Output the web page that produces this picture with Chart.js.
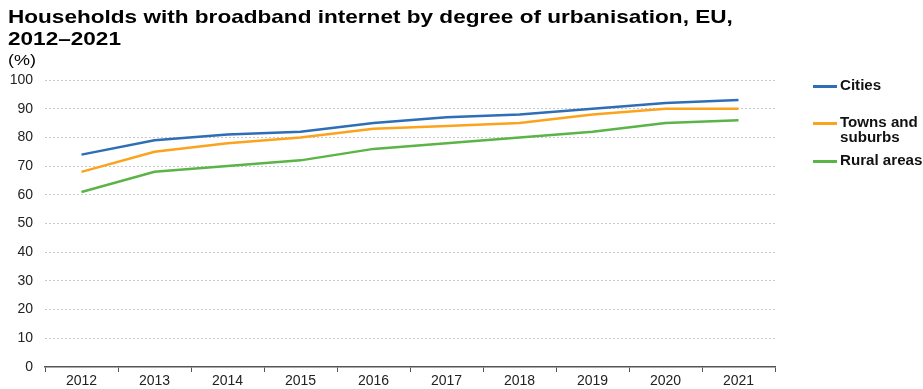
<!DOCTYPE html>
<html>
<head>
<meta charset="utf-8">
<script src="https://cdn.jsdelivr.net/npm/chart.js@4/dist/chart.umd.min.js"></script>
<style>
  html, body { margin: 0; padding: 0; background: #fff; }
  #wrap { position: relative; width: 923px; height: 389px; font-family: "Liberation Sans", Arial, sans-serif; color: #000; }
  #title { position: absolute; left: 8px; top: 6px; font-size: 18.5px; font-weight: bold; line-height: 22px; transform: scaleX(1.22); transform-origin: 0 0; white-space: nowrap; }
  #unit { position: absolute; left: 8px; top: 51px; font-size: 15px; transform: scaleX(1.2); transform-origin: 0 0; }
  #chart { position: absolute; left: 0; top: 0; }
  .lg { position: absolute; left: 813px; font-size: 14px; font-weight: bold; line-height: 15px; color: #111; }
  .lg .sw { position: absolute; left: 0; width: 24px; height: 3px; top: 6px; }
  .lg .tx { position: absolute; left: 27px; white-space: nowrap; transform: scaleX(1.08); transform-origin: 0 0; }
</style>
</head>
<body>
<div id="wrap">
  <canvas id="chart" width="923" height="389"></canvas>
  <div id="title">Households with broadband internet by degree of urbanisation, EU,<br>2012–2021</div>
  <div id="unit">(%)</div>
  <div id="legend"></div>
</div>
<script>
// Survey years
const years = ['2012', '2013', '2014', '2015', '2016', '2017', '2018', '2019', '2020', '2021'];

// Share of households with broadband access (%)
const cities = [74, 79, 81, 82, 85, 87, 88, 90, 92, 93];
const townsSuburbs = [68, 75, 78, 80, 83, 84, 85, 88, 90, 90];
const ruralAreas = [61, 68, 70, 72, 76, 78, 80, 82, 85, 86];

const seriesNames = ['Cities', ['Towns and', 'suburbs'], 'Rural areas'];
const seriesColors = ['#2E6EB6', '#FBA31C', '#5BB446'];
const legendTops = [78, 115, 153];

const datasets = [cities, townsSuburbs, ruralAreas].map((values, i) => ({
  label: Array.isArray(seriesNames[i]) ? seriesNames[i].join(' ') : seriesNames[i],
  data: values,
  borderColor: seriesColors[i],
  backgroundColor: seriesColors[i],
  borderWidth: 2.5,
  pointRadius: 0,
  tension: 0,
  fill: false
}));

// Legend on the right
const legend = document.getElementById('legend');
seriesNames.forEach((name, i) => {
  const item = document.createElement('div');
  item.className = 'lg';
  item.style.top = legendTops[i] + 'px';
  const lines = Array.isArray(name) ? name : [name];
  item.innerHTML = '<span class="sw" style="background:' + seriesColors[i] + ';top:' + 7 + 'px"></span>' +
    '<span class="tx">' + lines.join('<br>') + '</span>';
  legend.appendChild(item);
});

const tickFont = { family: '"Liberation Sans", Arial, sans-serif', size: 14 };

new Chart(document.getElementById('chart'), {
  type: 'line',
  data: { labels: years, datasets },
  options: {
    responsive: false,
    animation: false,
    events: [],
    layout: { padding: { left: 0, right: 148, top: 80, bottom: 0 } },
    plugins: { legend: { display: false }, title: { display: false }, tooltip: { enabled: false } },
    scales: {
      x: {
        type: 'category',
        offset: true,
        afterFit: (s) => { s.height = 22; },
        grid: {
          offset: true,
          drawOnChartArea: false,
          drawTicks: true,
          tickLength: 5,
          tickColor: '#555',
          lineWidth: 1
        },
        border: { display: true, color: '#555', width: 1.5 },
        ticks: {
          color: '#222',
          padding: 1,
          maxRotation: 0,
          font: tickFont
        }
      },
      y: {
        min: 0,
        max: 100,
        afterFit: (s) => { s.width = 45; },
        grid: {
          color: (ctx) => ctx.tick && ctx.tick.value === 0 ? 'rgba(0,0,0,0)' : '#c8c8c8',
          lineWidth: 1,
          drawTicks: false
        },
        border: { display: false, dash: [2, 2] },
        ticks: {
          stepSize: 10,
          padding: 12,
          color: '#222',
          font: tickFont
        }
      }
    }
  }
});
</script>
</body>
</html>
